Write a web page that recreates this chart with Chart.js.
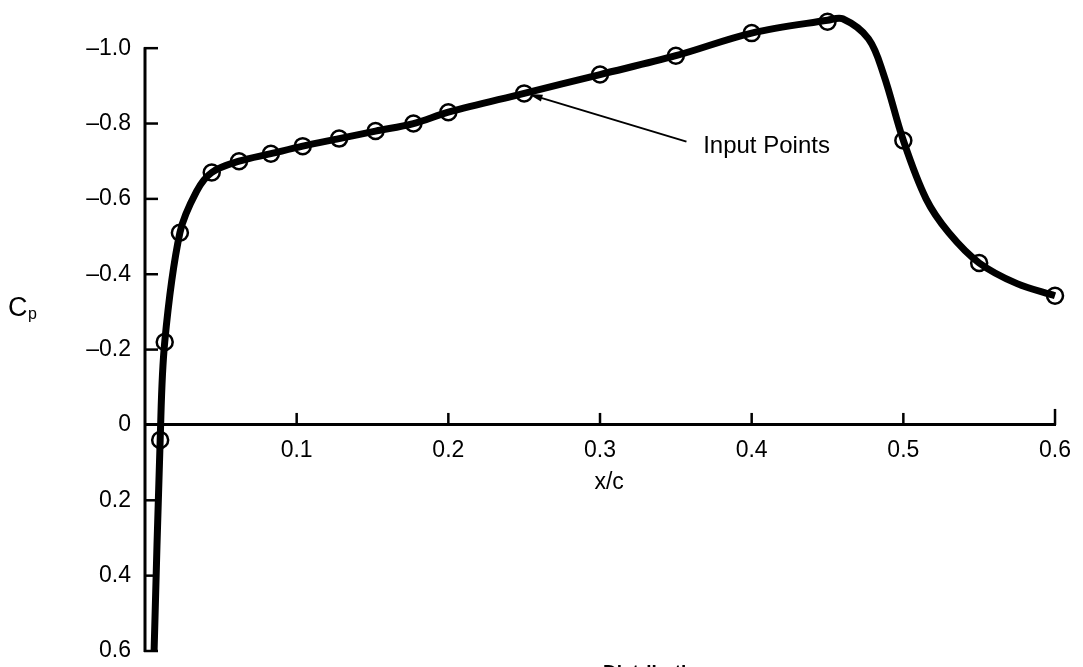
<!DOCTYPE html>
<html>
<head>
<meta charset="utf-8">
<script src="https://cdn.jsdelivr.net/npm/chart.js@4/dist/chart.umd.min.js"></script>
<style>
html, body { margin: 0; padding: 0; background: #fff; }
#wrap { width: 1083px; height: 667px; }
</style>
</head>
<body>
<div id="wrap"><canvas id="cpChart"></canvas></div>
<script>
// input points (circles)
const inputX  = [0.010, 0.013, 0.023, 0.044, 0.062, 0.083, 0.104, 0.128, 0.152, 0.177, 0.200, 0.250, 0.300, 0.350, 0.400, 0.450, 0.500, 0.550, 0.600];
const inputCp = [0.04, -0.22, -0.51, -0.67, -0.70, -0.72, -0.74, -0.76, -0.78, -0.80, -0.83, -0.88, -0.93, -0.98, -1.04, -1.07, -0.755, -0.43, -0.343];
// fitted curve
const curveX  = [0.006, 0.010, 0.013, 0.023, 0.034, 0.044, 0.062, 0.083, 0.104, 0.128, 0.152, 0.177, 0.200, 0.250, 0.300, 0.350, 0.400, 0.450, 0.460, 0.477, 0.487, 0.500, 0.515, 0.530, 0.550, 0.575, 0.600];
const curveCp = [0.60, 0.04, -0.22, -0.51, -0.62, -0.67, -0.70, -0.72, -0.74, -0.76, -0.78, -0.80, -0.83, -0.88, -0.93, -0.98, -1.04, -1.074, -1.078, -1.025, -0.93, -0.755, -0.60, -0.51, -0.43, -0.375, -0.343];
const xTicks = [0, 0.1, 0.2, 0.3, 0.4, 0.5, 0.6];
const yTicks = [-1.0, -0.8, -0.6, -0.4, -0.2, 0, 0.2, 0.4, 0.6];

Chart.defaults.font.family = '"Liberation Sans", Arial, Helvetica, sans-serif';
Chart.defaults.font.size = 23;
Chart.defaults.color = '#000';

function fmtY(v) {
  if (Math.abs(v) < 1e-9) return '0';
  return (v < 0 ? '\u2013' : '') + Math.abs(v).toFixed(1);
}

function seg(ctx, x1, y1, x2, y2) {
  ctx.beginPath(); ctx.moveTo(x1, y1); ctx.lineTo(x2, y2); ctx.stroke();
}

const decor = {
  id: 'decor',
  beforeDatasetsDraw(chart) {
    const { ctx, scales: { x, y } } = chart;
    const x0 = x.getPixelForValue(0), y0 = y.getPixelForValue(0);
    ctx.save();
    ctx.strokeStyle = '#000';
    // y axis line from -1.0 to 0.6
    ctx.lineWidth = 3;
    seg(ctx, x0, y.getPixelForValue(yTicks[0]) - 1, x0, y.getPixelForValue(yTicks[yTicks.length - 1]) + 1);
    ctx.lineWidth = 2.5;
    yTicks.forEach(v => {
      if (v === 0) return;
      const py = y.getPixelForValue(v);
      seg(ctx, x0 - 1, py, x0 + 13, py);
    });
    xTicks.forEach(v => {
      if (v === 0) return;
      const px = x.getPixelForValue(v);
      seg(ctx, px, y0, px, y0 - (v === 0.6 ? 16 : 12));
    });
    ctx.restore();
  },
  afterDraw(chart) {
    const { ctx, scales: { x, y } } = chart;
    ctx.save();
    ctx.fillStyle = '#000';
    ctx.strokeStyle = '#000';
    // axis titles
    ctx.font = '23px "Liberation Sans", Arial, sans-serif';
    ctx.textAlign = 'center';
    ctx.textBaseline = 'middle';
    ctx.fillText('x/c', x.getPixelForValue(0.306), y.getPixelForValue(0) + 58);
    ctx.textAlign = 'left';
    ctx.textBaseline = 'alphabetic';
    ctx.font = '27px "Liberation Sans", Arial, sans-serif';
    ctx.fillText('C', 8, 316);
    ctx.font = '16px "Liberation Sans", Arial, sans-serif';
    ctx.fillText('p', 28, 319);
    // annotation
    const tx = x.getPixelForValue(0.25) + 12, ty = y.getPixelForValue(-0.88) + 3;
    const sx = x.getPixelForValue(0.357), sy = y.getPixelForValue(-0.752);
    ctx.lineWidth = 2;
    seg(ctx, sx, sy, tx, ty);
    const ang = Math.atan2(ty - sy, tx - sx);
    ctx.beginPath();
    ctx.moveTo(tx + 8 * Math.cos(ang), ty + 8 * Math.sin(ang));
    ctx.lineTo(tx - 6 * Math.cos(ang) - 3.5 * Math.sin(ang), ty - 6 * Math.sin(ang) + 3.5 * Math.cos(ang));
    ctx.lineTo(tx - 6 * Math.cos(ang) + 3.5 * Math.sin(ang), ty - 6 * Math.sin(ang) - 3.5 * Math.cos(ang));
    ctx.closePath();
    ctx.fill();
    ctx.font = '24px "Liberation Sans", Arial, sans-serif';
    ctx.textBaseline = 'middle';
    ctx.fillText('Input Points', x.getPixelForValue(0.368), y.getPixelForValue(-0.74));
    // caption, cut off by the bottom edge
    ctx.font = 'bold 19px "Liberation Sans", Arial, sans-serif';
    ctx.textBaseline = 'top';
    ctx.fillText('Distribution', 603, 663);
    ctx.restore();
  }
};

new Chart(document.getElementById('cpChart').getContext('2d'), {
  type: 'line',
  data: {
    datasets: [
      {
        label: 'Input Points',
        data: inputX.map((v, i) => ({ x: v, y: inputCp[i] })),
        showLine: false,
        pointRadius: 8,
        pointBorderWidth: 2.5,
        pointBorderColor: '#000',
        pointBackgroundColor: 'rgba(0,0,0,0)',
        clip: false,
        order: 0
      },
      {
        label: 'Cp',
        data: curveX.map((v, i) => ({ x: v, y: curveCp[i] })),
        borderColor: '#000',
        borderWidth: 7,
        pointRadius: 0,
        tension: 0.35,
        fill: false,
        clip: false,
        order: 1
      }
    ]
  },
  plugins: [decor],
  options: {
    responsive: true,
    maintainAspectRatio: false,
    animation: false,
    layout: { padding: { left: 0, right: 23, top: 1, bottom: 16 } },
    plugins: { legend: { display: false }, tooltip: { enabled: false } },
    scales: {
      x: {
        type: 'linear',
        position: { y: 0 },
        min: 0, max: 0.6,
        afterBuildTicks: s => { s.ticks = xTicks.map(v => ({ value: v })); },
        ticks: { padding: 12, callback: v => (v === 0 ? '' : v.toFixed(1)), maxRotation: 0 },
        grid: { display: false, drawTicks: false },
        border: { display: true, color: '#000', width: 3 }
      },
      y: {
        type: 'linear',
        min: -1.1, max: 0.6,
        reverse: true,
        afterBuildTicks: s => { s.ticks = yTicks.map(v => ({ value: v })); },
        afterFit: s => { s.width = 145; s.paddingTop = 0; s.paddingBottom = 0; },
        ticks: { padding: 14, callback: v => fmtY(v) },
        grid: { display: false, drawTicks: false },
        border: { display: false }
      }
    }
  }
});
</script>
</body>
</html>
